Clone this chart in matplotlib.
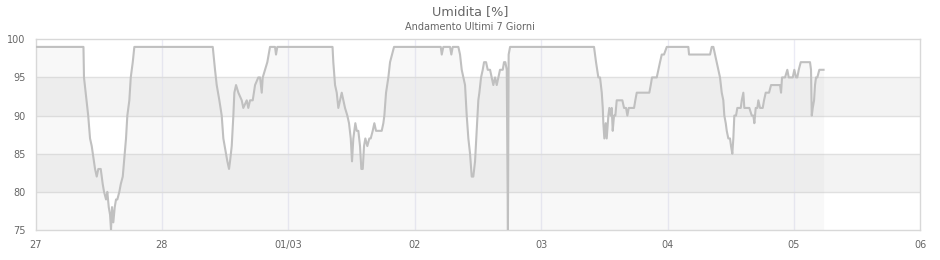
import numpy as np
import matplotlib
matplotlib.use("Agg")
import matplotlib.pyplot as plt

# ore trascorse dal 27 alle 00:00 e umidita letta
ore = [0.0, 9.1, 9.2, 10.0, 10.35, 10.67, 11.3, 11.62, 11.92, 12.38, 12.57, 12.76, 13.01, 13.39,
       13.63, 13.9, 14.15, 14.33, 14.52, 14.77, 15.04, 15.28, 15.53, 15.91, 16.18, 16.56, 16.8,
       17.18, 17.43, 17.81, 18.08, 18.46, 18.76,
       33.65, 34.08, 34.4, 34.9, 35.35, 35.66, 36.17, 36.42, 36.74, 36.93, 37.25, 37.56, 37.75,
       38.07, 38.51, 39.15, 39.45, 40.1, 40.4, 40.73, 41.24, 41.68, 42.3, 42.63, 42.95, 43.14,
       43.58, 44.01, 44.52, 45.47, 45.66, 45.91,
       56.39, 56.54, 56.87, 57.19, 57.49, 57.82, 58.14, 58.44, 58.76, 59.2, 59.52, 59.85, 60.09,
       60.34, 60.72, 60.99, 61.29, 61.61, 61.86, 62.13, 62.37, 62.62, 63.0, 63.38, 63.64, 64.02,
       64.33, 64.65, 65.09, 65.73, 66.04, 66.23, 66.55, 66.99, 67.31, 67.69, 68.07,
       76.94, 77.13, 77.43, 78.7, 78.95, 79.21, 80.28, 80.6, 80.92, 81.23, 81.55, 81.87, 82.18,
       82.5, 82.82, 83.12, 83.45, 83.77, 84.07, 84.27, 84.59, 84.91, 85.16, 85.54, 85.86, 86.3,
       86.62, 86.92, 87.25, 87.57, 87.87, 88.19, 88.71, 88.95, 89.2, 89.47, 89.69, 89.83, 90.1,
       106.04, 106.42, 106.86, 107.18, 107.51, 107.7, 107.81, 108.0, 108.26, 108.45, 108.76,
       108.95, 109.21, 109.4, 109.59, 109.84, 110.09, 110.35, 110.66, 111.11, 111.42, 111.74,
       112.12, 112.37, 112.63, 113.2, 113.64, 113.88, 114.15, 116.54, 116.81, 117.05, 117.95,
       118.25, 118.57, 118.9, 119.33, 119.85, 123.95, 124.08, 128.07, 128.39, 128.7, 129.02,
       129.34, 129.64, 129.96, 130.29, 130.59, 130.78, 131.05, 131.24, 131.54, 131.86, 132.05,
       132.3, 132.49, 132.68, 133.0, 133.25, 133.57, 133.9, 134.09, 134.39, 134.58, 135.04,
       135.53, 135.99, 136.29, 136.48, 136.74, 137.05, 137.24, 137.56, 138.07, 138.32, 138.64,
       138.95, 139.27, 139.65, 141.36, 141.55, 141.74, 142.31, 142.74, 143.01, 143.39, 143.77,
       144.07, 144.4, 144.64, 144.91, 145.29, 147.05, 147.24, 147.38, 147.57, 147.82, 148.0,
       148.19, 148.44, 148.82, 149.62]
umidita = [99, 99, 95, 90, 87, 86, 83, 82, 83, 83, 82, 81, 80, 79,
           80, 78, 77, 75, 78, 76, 78, 79, 79, 80, 81, 82, 84,
           87, 90, 92, 95, 97, 99,
           99, 96, 94, 92, 90, 87, 85, 84, 83, 84, 86, 90, 93,
           94, 93, 92, 91, 92, 91, 92, 92, 94, 95, 95, 93, 95,
           96, 97, 99, 99, 98, 99,
           99, 97, 94, 93, 91, 92, 93, 92, 91, 90, 89, 87, 84,
           87, 89, 88, 88, 86, 83, 83, 86, 87, 86, 87, 87, 88,
           89, 88, 88, 88, 89, 90, 93, 95, 97, 98, 99,
           99, 98, 99, 99, 98, 99, 99, 98, 96, 95, 94, 90, 87,
           85, 82, 82, 84, 88, 92, 93, 95, 96, 97, 97, 96, 96,
           95, 94, 95, 94, 95, 96, 96, 97, 97, 96, 75, 98, 99,
           99, 97, 95, 95, 93, 91, 89, 87, 89, 87, 90,
           91, 90, 91, 88, 90, 90, 92, 92, 92, 92, 91,
           91, 90, 91, 91, 91, 92, 93, 93, 94, 95, 95,
           96, 97, 98, 98, 99, 99, 98, 98, 99, 99, 98,
           97, 96, 95, 93, 92, 90, 89, 88, 87, 87, 86,
           85, 87, 90, 90, 91, 91, 91, 92, 93, 91, 91,
           91, 90, 90, 89, 91, 91, 92, 91, 91, 92, 93,
           93, 93, 94, 94, 93, 95, 95, 96, 95, 95, 95,
           96, 95, 95, 96, 97, 97, 96, 90, 91, 92, 94,
           95, 95, 96, 96]

giorni = [0, 24, 48, 72, 96, 120, 144, 168]
etichette_giorni = ['27', '28', '01/03', '02', '03', '04', '05', '06']
valori_y = [75, 80, 85, 90, 95, 100]

grigio = '#666666'

fig = plt.figure(figsize=(9.4, 2.6), dpi=100)
ax = fig.add_axes([0.0378, 0.1154, 0.9413, 0.7335])

# fasce alternate
ax.axhspan(80, 85, color='#f3f3f3', lw=0, zorder=0)
ax.axhspan(90, 95, color='#f3f3f3', lw=0, zorder=0)

for g in giorni[1:-1]:
    ax.axvline(g, color='#ebebf5', lw=1, zorder=1)
for v in valori_y[1:-1]:
    ax.axhline(v, color='#e0e0e0', lw=1, zorder=1)

ax.fill_between(ore, umidita, 75, color='#c0c0c0', alpha=0.1, lw=0, zorder=2)
ax.plot(ore, umidita, color='#c0c0c0', lw=1.5, zorder=3)

ax.set_xlim(0, 168)
ax.set_ylim(75, 100)
ax.set_xticks(giorni)
ax.set_xticklabels(etichette_giorni)
ax.set_yticks(valori_y)
ax.tick_params(axis='both', length=0, colors=grigio, labelsize=7)
ax.tick_params(axis='x', pad=7)
ax.tick_params(axis='y', pad=7)
for s in ax.spines.values():
    s.set_color('#d8d8d8')
    s.set_linewidth(1)

fig.text(0.5, 0.955, 'Umidita [%]', ha='center', va='center', fontsize=9.2, color=grigio)
fig.text(0.5, 0.895, 'Andamento Ultimi 7 Giorni', ha='center', va='center', fontsize=7, color=grigio)

fig.savefig('out.png', dpi=100)
